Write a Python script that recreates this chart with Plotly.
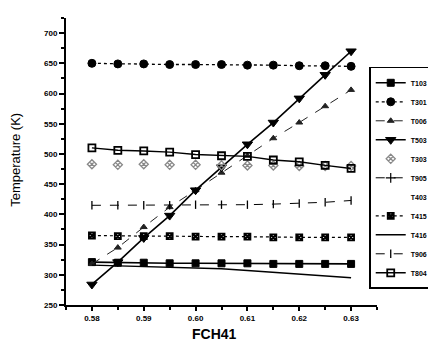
import plotly.graph_objects as go

fch41 = [0.580, 0.585, 0.590, 0.595, 0.600, 0.605, 0.610, 0.615, 0.620, 0.625, 0.630]

t103 = [321, 320, 320, 319, 319, 319, 319, 318, 318, 318, 318]
t301 = [650, 649, 649, 648, 648, 648, 647, 647, 646, 646, 645]
t006 = [318, 345, 379, 412, 440, 469, 497, 526, 552, 579, 606]
t503 = [284, 321, 361, 398, 440, 478, 516, 552, 592, 631, 670]
t303 = [483, 482, 483, 482, 482, 481, 481, 481, 480, 480, 480]
t905 = []   # legend entry only, not visible in the plot
t403 = []   # legend entry only, not visible in the plot
t415 = [365, 364, 364, 364, 363, 363, 363, 362, 362, 362, 362]
t416 = [316, 315, 314, 313, 312, 310, 307, 304, 301, 298, 295]
t906 = [415, 415, 415, 415, 416, 416, 416, 417, 418, 420, 423]
t804 = [510, 506, 505, 503, 499, 497, 496, 490, 487, 481, 476]

x_ticks = [0.58, 0.59, 0.60, 0.61, 0.62, 0.63]
x_labels = ["0.58", "0.59", "0.60", "0.61", "0.62", "0.63"]
y_ticks = [250, 300, 350, 400, 450, 500, 550, 600, 650, 700]

x_title = "FCH41"
y_title = "Temperature (K)"

FONT = "Liberation Sans, Arial, sans-serif"

fig = go.Figure()

def add(name, y, mode, dash=None, symbol=None, size=8, color="black", lw=1.3, mlw=1, mcolor=None):
    if len(y) == 0:
        xs, ys = [None], [None]
    else:
        xs, ys = fch41[:len(y)], y
    fig.add_trace(go.Scatter(
        x=xs, y=ys, name=name, mode=mode,
        line=dict(color=color, width=lw, dash=dash),
        marker=dict(symbol=symbol, size=size, color=mcolor or color,
                    line=dict(color=mcolor or color, width=mlw)),
    ))

add("T103", t103, "lines+markers", "solid", "square", 7, lw=1.6)
add("T301", t301, "lines+markers", "dot", "circle", 8, lw=1.3)
add("T006", t006, "lines+markers", "dash", "triangle-up", 6, color="#222", lw=1.0)
add("T503", t503, "lines+markers", "solid", "triangle-down", 9, lw=1.6)
add("T303", t303, "markers", None, "diamond-x-open", 7, color="#888", mlw=1.3)
add("T905", t905, "lines+markers", "dash", "cross-thin-open", 7, lw=1.0, mlw=1.2)
add("T403", t403, "markers", None, "circle", 6, color="rgba(0,0,0,0)")
add("T415", t415, "lines+markers", "dot", "square-x-open", 6, lw=1.2, mlw=1.8)
add("T416", t416, "lines", "solid", None, lw=1.4)
add("T906", t906, "lines+markers", "dash", "line-ns-open", 6, lw=1.0, mlw=1.3)
add("T804", t804, "lines+markers", "solid", "square-open", 7, lw=1.4, mlw=1.8)

fig.update_layout(
    width=436, height=343,
    margin=dict(l=58, r=61, t=10, b=46),
    paper_bgcolor="white", plot_bgcolor="white",
    font=dict(family=FONT, color="black"),
    showlegend=True,
    legend=dict(
        x=0.975, y=0.83, xanchor="left", yanchor="top",
        bgcolor="white", bordercolor="black", borderwidth=1.5,
        font=dict(size=7, family=FONT, weight="bold"),
        tracegroupgap=0, itemwidth=30,
    ),
    xaxis=dict(
        range=[0.575, 0.635], tickvals=x_ticks, ticktext=x_labels, automargin=False,
        showgrid=False, zeroline=False, showline=True, linecolor="black", linewidth=2,
        ticks="outside", ticklen=4, tickcolor="black", tickwidth=1.5,
        tickfont=dict(size=8, family=FONT, weight="bold"),
        minor=dict(dtick=0.005, tick0=0.575, ticks="outside", ticklen=3, tickcolor="black"),
    ),
    yaxis=dict(
        range=[250, 725], tickvals=y_ticks, automargin=False,
        showgrid=False, zeroline=False, showline=True, linecolor="black", linewidth=2,
        ticks="outside", ticklen=5, tickcolor="black", tickwidth=1.5,
        tickfont=dict(size=8, family=FONT, weight="bold"),
        minor=dict(dtick=25, tick0=250, ticks="outside", ticklen=3, tickcolor="black"),
    ),
    annotations=[
        dict(text=x_title, xref="paper", yref="paper", x=0.479, y=-0.1,
             xanchor="center", yanchor="middle", showarrow=False,
             font=dict(size=14, family=FONT, weight="bold")),
        dict(text=y_title, xref="paper", yref="paper", x=-0.165, y=0.505,
             xanchor="center", yanchor="middle", showarrow=False, textangle=-90,
             font=dict(size=13, family=FONT)),
    ],
)

fig.write_html("out.html")
